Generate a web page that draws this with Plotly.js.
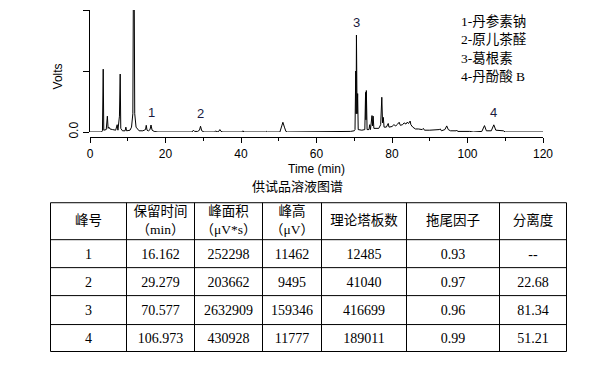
<!DOCTYPE html>
<html>
<head>
<meta charset="utf-8">
<script src="https://cdn.plot.ly/plotly-3.0.1.min.js"></script>
<style>html,body{margin:0;padding:0;background:#fff;}#chart{width:603px;height:370px;}</style>
</head>
<body>
<div id="chart"></div>
<script>
// Chromatogram trace points (time in min, signal in V)
const time = [0,3.0,3.3,3.5,3.65,4.3,4.6,4.8,5.0,5.3,6.0,6.8,7.2,7.4,7.8,8.0,8.15,8.6,9.3,9.5,9.7,10.6,11.0,11.35,11.6,11.85,12.2,12.6,13.0,14.0,14.7,14.9,15.1,15.5,15.9,16.16,16.45,17.0,18.0,
  27.0,27.4,27.7,28.5,29.0,29.28,29.6,30.2,33.0,33.3,33.6,34.1,34.4,34.7,35.2,40.2,40.5,40.8,46.6,46.8,47.0,50.3,50.8,51.1,51.5,51.9,52.3,
  68.0,69.0,70.0,70.2,70.4,70.5,70.58,70.75,70.9,71.05,72.0,72.8,73.0,73.1,73.2,73.4,73.9,74.1,74.3,74.7,74.85,75.0,75.2,76.5,77.0,77.3,77.5,77.7,77.9,78.5,79.0,79.2,
  80.0,80.5,81.0,81.5,81.9,82.2,82.8,83.2,83.7,84.0,84.4,84.8,85.0,85.5,86.2,87.0,88.0,88.3,88.6,90.0,92.0,92.5,92.8,93.1,94.0,94.5,94.9,95.5,97.0,97.2,97.4,99.5,100.0,100.6,101.5,
  103.8,104.5,105.0,106.3,106.97,107.5,108.5,109.5,110.0,120.0];
const volts = [0,0,0.002,0.103,0.003,0.004,0.026,0.006,0.008,0.005,0.004,0.003,0.012,0.003,0.026,0.095,0.006,0.002,0.002,0.008,0.002,0.003,0.008,0.03,0.40,0.03,0.008,0.004,0.002,0.002,0.004,0.011,0.003,0.002,0.004,0.0115,0.003,0.001,0,
  0,0.003,0.001,0.001,0.003,0.0095,0.002,0,0,0.002,0,0.001,0.004,0.001,0,0,0.002,0,0,0.001,0,0,0.01,0.016,0.008,0.001,0,
  0,0.001,0.002,0.004,0.1,0.03,0.159,0.03,0.063,0.004,0.003,0.004,0.065,0.02,0.068,0.004,0.004,0.012,0.004,0.027,0.01,0.026,0.006,0.006,0.012,0.057,0.015,0.024,0.008,0.008,0.014,0.008,
  0.009,0.012,0.010,0.013,0.016,0.011,0.012,0.015,0.013,0.016,0.014,0.018,0.012,0.008,0.005,0.005,0.004,0.006,0.003,0.003,0.003,0.004,0.005,0.002,0.004,0.010,0.004,0.002,0.002,0.003,0.001,0.001,0.002,0.001,0,
  0.001,0.0105,0.002,0.002,0.0118,0.003,0.002,0.002,0,0];

// Legend text (compound names)
const compounds = ['1-丹参素钠','2-原儿茶醛','3-葛根素','4-丹酚酸 B'];

// Table data
const headers = ['峰号','保留时间<br>（min）','峰面积<br>（μV*s）','峰高<br>（μV）','理论塔板数','拖尾因子','分离度'];
const peakNo = ['1','2','3','4'];
const retention = ['16.162','29.279','70.577','106.973'];
const area = ['252298','203662','2632909','430928'];
const heightUV = ['11462','9495','159346','11777'];
const plates = ['12485','41040','416699','189011'];
const tailing = ['0.93','0.97','0.96','0.99'];
const resolution = ['--','22.68','81.34','51.21'];

// ---- layout geometry (pixels) ----
const L = 40, R = 573, T = 9.5, B = 360;
const px = x => (x - L) / (R - L);
const py = y => (B - y) / (B - T);
const colEdges = [50.5, 126.5, 194.5, 262.5, 321.5, 406.5, 499.5, 566.5];
const rowEdges = [202.5, 239.5, 267.5, 295.5, 324.5, 351.5];

const serif = 'Liberation Serif, Noto Sans CJK SC, serif';
const sans = 'Liberation Sans, Arial, Noto Sans CJK SC, sans-serif';

// table grid
const gx = [], gy = [];
rowEdges.forEach(r => { gx.push(colEdges[0], colEdges[colEdges.length-1], null); gy.push(r, r, null); });
colEdges.forEach(c => { gx.push(c, c, null); gy.push(rowEdges[0], rowEdges[rowEdges.length-1], null); });

// table text
const columns = [peakNo, retention, area, heightUV, plates, tailing, resolution];
const hx = [], hy = [], ht = [], cx = [], cy = [], ct = [];
headers.forEach((h, j) => { hx.push((colEdges[j]+colEdges[j+1])/2); hy.push((rowEdges[0]+rowEdges[1])/2 + 0.5); ht.push(h); });
columns.forEach((col, j) => col.forEach((v, i) => {
  cx.push((colEdges[j]+colEdges[j+1])/2); cy.push((rowEdges[i+1]+rowEdges[i+2])/2 + 1.5); ct.push(v);
}));

const traces = [
  {type:'scatter', mode:'lines', x: time, y: volts, line:{color:'#000', width:1}, hoverinfo:'skip', showlegend:false},
  {type:'scatter', mode:'lines', x: gx, y: gy, xaxis:'x2', yaxis:'y2', line:{color:'#000', width:1}, connectgaps:false, hoverinfo:'skip'},
  {type:'scatter', mode:'text', x: hx, y: hy, text: ht, xaxis:'x2', yaxis:'y2', textposition:'middle center',
   textfont:{family: serif, size:13.5, color:'#000'}, hoverinfo:'skip', cliponaxis:false},
  {type:'scatter', mode:'text', x: cx, y: cy, text: ct, xaxis:'x2', yaxis:'y2', textposition:'middle center',
   textfont:{family: serif, size:14, color:'#000'}, hoverinfo:'skip', cliponaxis:false}
];

const annotations = [];
// Peak number labels placed above each peak
for (let i = 0; i < peakNo.length; i++) {
  annotations.push({x: parseFloat(retention[i]), y: parseFloat(heightUV[i]) / 1e6, xref:'x', yref:'y',
    text: peakNo[i], showarrow:false, yanchor:'bottom', yshift:3,
    font:{family: sans, size:13, color:'#1a1a40'}});
}
// Compound list
compounds.forEach((c, i) => {
  annotations.push({x: px(459), y: py(21 + i * 18.3), xref:'paper', yref:'paper', text: c, showarrow:false,
    xanchor:'left', yanchor:'middle', font:{family: serif, size:13.5, color:'#000'}});
});
annotations.push({x: px(58), y: py(76), xref:'paper', yref:'paper', text:'Volts', textangle:-90, showarrow:false,
  xanchor:'center', yanchor:'middle', font:{family: sans, size:12, color:'#000'}});
annotations.push({x: px(297), y: py(185), xref:'paper', yref:'paper', text:'供试品溶液图谱', showarrow:false,
  xanchor:'center', yanchor:'middle', font:{family: 'Noto Sans CJK SC, sans-serif', size:13, color:'#000'}});

const layout = {
  width:603, height:370,
  margin:{l:L, r:603-R, t:T, b:370-B, pad:0},
  paper_bgcolor:'#fff', plot_bgcolor:'rgba(0,0,0,0)', showlegend:false,
  xaxis:{range:[0,120], domain:[px(90), px(543)], anchor:'free', position: py(137),
    tickvals:[0,20,40,60,80,100,120], ticks:'outside', ticklen:5, tickcolor:'#000', showline:true, linecolor:'#000', linewidth:1,
    showgrid:false, zeroline:false, tickfont:{family: sans, size:12, color:'#000'},
    minor:{tickvals:[10,30,50,70,90,110], ticks:'outside', ticklen:3, tickcolor:'#000', showgrid:false},
    title:{text:'Time (min)', font:{family: sans, size:12, color:'#000'}, standoff:4}},
  yaxis:{range:[0,0.2], domain:[py(131.7), 1], anchor:'x',
    tickvals:[0,0.1,0.2], ticktext:['0.0','',''], tickangle:-90, ticks:'outside', ticklen:6, tickcolor:'#000',
    showline:true, linecolor:'#000', linewidth:1, showgrid:false, zeroline:false,
    tickfont:{family: sans, size:12, color:'#000'}},
  xaxis2:{domain:[0,1], range:[L, R], anchor:'y2', visible:false, fixedrange:true},
  yaxis2:{domain:[0, py(195)], range:[B, 195], anchor:'x2', visible:false, fixedrange:true},
  annotations: annotations
};

Plotly.newPlot('chart', traces, layout, {displayModeBar:false, staticPlot:true});
</script>
</body>
</html>
